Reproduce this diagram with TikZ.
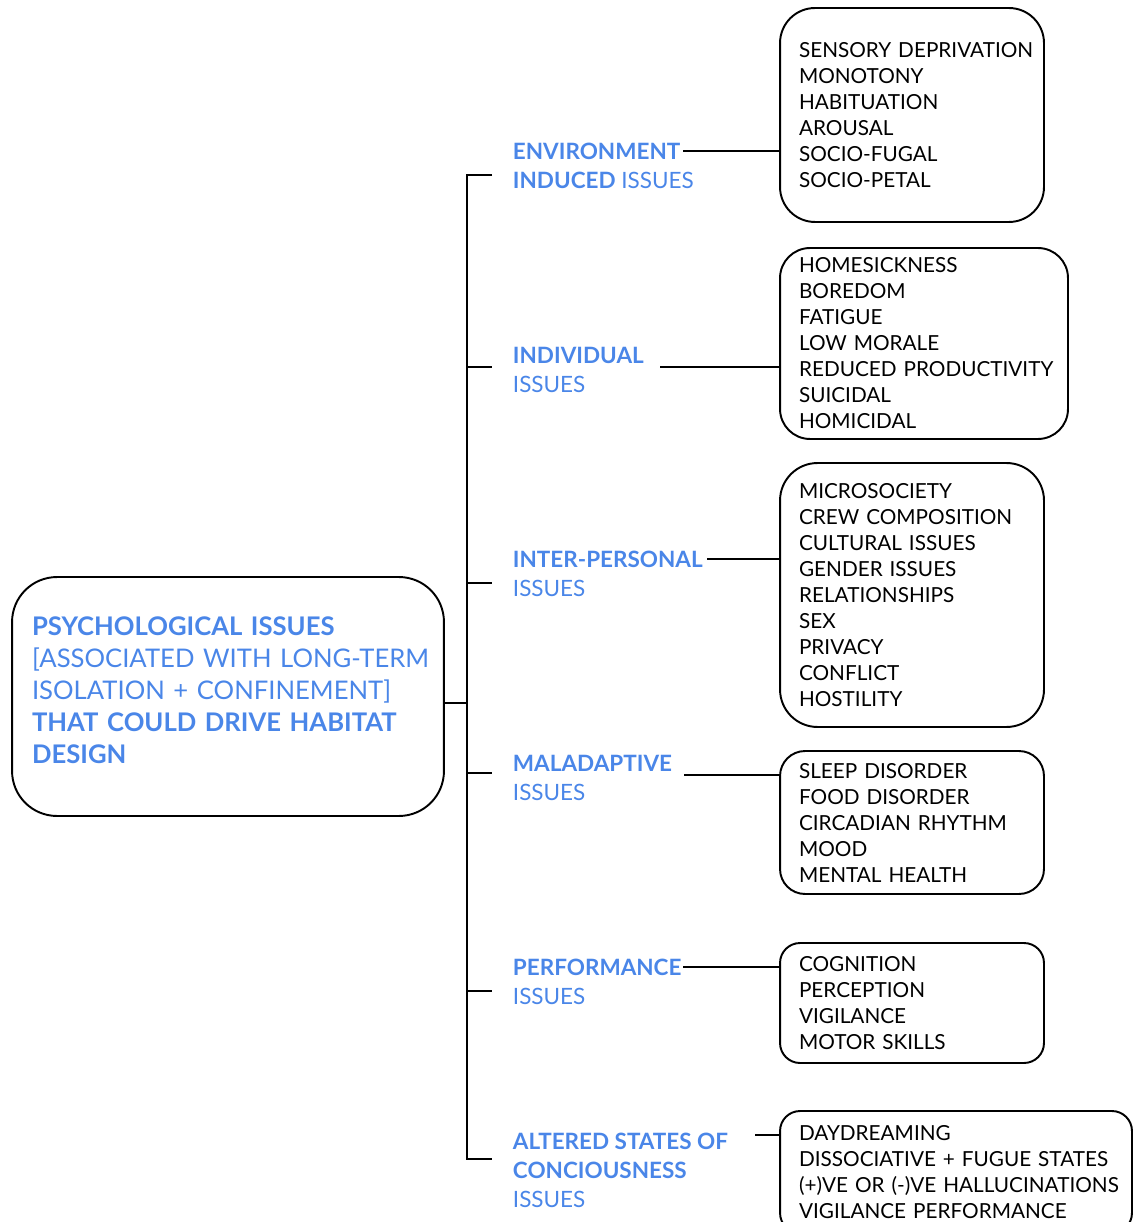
\documentclass[tikz,border=0pt]{standalone}
\usepackage{fontspec}
\setmainfont{Lato}
\usetikzlibrary{positioning}
\definecolor{issueblue}{RGB}{74,134,232}

\begin{document}
\begin{tikzpicture}[
        x=0.02cm, y=-0.02cm,
        line width=1.1pt,
        nobreak/.style={execute at begin node={\hyphenpenalty=10000\exhyphenpenalty=10000}},
        itembox/.style={draw, nobreak, align=left, inner xsep=0.38cm, inner ysep=0pt,
          font=\fontsize{11.8}{14.8}\selectfont},
        branch/.style={anchor=west, align=left, inner sep=0pt, text=issueblue,
          font=\fontsize{12.8}{16.5}\selectfont},
      ]
      \useasboundingbox (0,0) rectangle (1133,1222);

      % Root
      \node[draw, nobreak, rounded corners=0.9cm, align=left, text width=7.84cm, inner xsep=0.4cm,
        minimum height=4.78cm, text=issueblue, font=\fontsize{14.6}{18.2}\selectfont]
        (psy) at (228,696.5) {\textbf{PSYCHOLOGICAL~ISSUES}\\
        {[}ASSOCIATED~WITH~LONG-TERM\\
        ISOLATION~+~CONFINEMENT]\\
        \textbf{THAT~COULD~DRIVE~HABITAT}\\
        \textbf{DESIGN}\rule[-0.26cm]{0pt}{0pt}};

      % Trunk
      \coordinate (hub) at (467,703);
      \coordinate (t1) at (492,175);
      \coordinate (t2) at (492,367);
      \coordinate (t3) at (492,583);
      \coordinate (t4) at (492,773);
      \coordinate (t5) at (492,991);
      \coordinate (t6) at (492,1159);
      \draw (psy.east |- hub) -- (hub);
      \draw (t1) -| (hub) |- (t6);
      \draw (t2 -| hub) -- (t2);
      \draw (t3 -| hub) -- (t3);
      \draw (t4 -| hub) -- (t4);
      \draw (t5 -| hub) -- (t5);

      % Environment induced
      \node[branch] (env) at (512,165.5) {\textbf{ENVIRONMENT}\\\textbf{INDUCED} ISSUES};
      \node[itembox, rounded corners=0.7cm, text width=4.52cm, minimum height=4.28cm]
        (envbox) at (912,115) {SENSORY~DEPRIVATION\\MONOTONY\\HABITUATION\\AROUSAL\\SOCIO-FUGAL\\SOCIO-PETAL};
      \coordinate (c1) at (683,151);
      \draw (c1) -- (c1 -| envbox.west);

      % Individual
      \node[branch] (ind) at (512,369.5) {\textbf{INDIVIDUAL}\\ISSUES};
      \node[itembox, rounded corners=0.6cm, text width=5.0cm, minimum height=3.82cm]
        (indbox) at (924,343.5) {HOMESICKNESS\\BOREDOM\\FATIGUE\\LOW MORALE\\REDUCED~PRODUCTIVITY\\SUICIDAL\\HOMICIDAL};
      \coordinate (c2) at (660,367);
      \draw (c2) -- (c2 -| indbox.west);

      % Inter-personal
      \node[branch] (inter) at (512,573.5) {\textbf{INTER-PERSONAL}\\ISSUES};
      \node[itembox, rounded corners=0.75cm, text width=4.52cm, minimum height=5.28cm]
        (interbox) at (912,595) {MICROSOCIETY\\CREW~COMPOSITION\\CULTURAL ISSUES\\GENDER ISSUES\\RELATIONSHIPS\\SEX\\PRIVACY\\CONFLICT\\HOSTILITY};
      \coordinate (c3) at (707,559);
      \draw (c3) -- (c3 -| interbox.west);

      % Maladaptive
      \node[branch] (mal) at (512,777.5) {\textbf{MALADAPTIVE}\\ISSUES};
      \node[itembox, rounded corners=0.5cm, text width=4.52cm, minimum height=2.86cm]
        (malbox) at (912,822.5) {SLEEP DISORDER\\FOOD DISORDER\\CIRCADIAN~RHYTHM\\MOOD\\MENTAL HEALTH};
      \coordinate (c4) at (684,775);
      \draw (c4) -- (c4 -| malbox.west);

      % Performance
      \node[branch] (perf) at (512,981.5) {\textbf{PERFORMANCE}\\ISSUES};
      \node[itembox, rounded corners=0.4cm, text width=4.52cm, minimum height=2.4cm]
        (perfbox) at (912,1003) {COGNITION\\PERCEPTION\\VIGILANCE\\MOTOR SKILLS};
      \coordinate (c5) at (683,967);
      \draw (c5) -- (c5 -| perfbox.west);

      % Altered states
      \node[branch] (alt) at (512,1170) {\textbf{ALTERED STATES OF}\\\textbf{CONCIOUSNESS}\\ISSUES};
      \node[itembox, rounded corners=0.4cm, text width=6.28cm, minimum height=2.44cm]
        (altbox) at (956,1172) {DAYDREAMING\\DISSOCIATIVE~+~FUGUE~STATES\\(+)VE~OR~(-)VE~HALLUCINATIONS\\VIGILANCE~PERFORMANCE};
      \coordinate (c6) at (755,1135);
      \draw (c6) -- (c6 -| altbox.west);
    \end{tikzpicture}
\end{document}
